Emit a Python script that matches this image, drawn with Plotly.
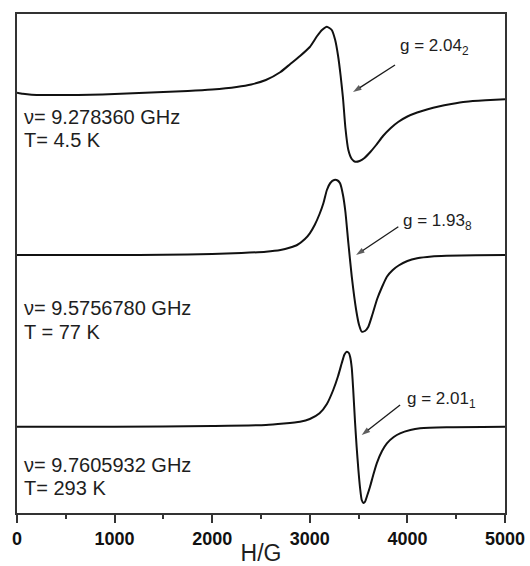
import plotly.graph_objects as go

# Field (G) and intensity (a.u., spectra stacked with offsets)
h_top = [0, 60, 150, 300, 500, 750, 1000, 1250, 1500, 1750, 2000, 2250, 2400, 2550, 2700, 2800,
         2900, 3000, 3075, 3125, 3175, 3225, 3260, 3290, 3315, 3340, 3365, 3395, 3430, 3465,
         3510, 3560, 3620, 3680, 3750, 3830, 3905, 4000, 4100, 4200, 4320, 4450, 4600, 4800, 5000]
i_top = [420.3, 419.2, 418.3, 418, 418, 418.2, 419, 420, 421, 422, 423.5, 426, 428.5, 433, 441, 449,
         457, 466, 477, 483, 486.3, 483, 473, 457, 438, 415, 385, 363, 354, 351.3,
         352, 355, 361, 368, 377, 385, 391, 396.5, 400.5, 403.5, 406.5, 409, 411.3, 412.7, 413.7]

h_mid = [0, 500, 1000, 1500, 2000, 2300, 2550, 2700, 2800, 2870, 2950, 3000, 3050, 3100, 3140,
         3175, 3210, 3250, 3285, 3310, 3340, 3365, 3395, 3430, 3475, 3505, 3532, 3565, 3600,
         3640, 3690, 3740, 3790, 3850, 3910, 4000, 4100, 4250, 4400, 4700, 5000]
i_mid = [258, 258, 258, 258.2, 259, 260, 261.3, 263, 265.5, 268, 274, 279.7, 288, 299, 310,
         323, 330, 333, 332.5, 329.7, 318, 301, 270, 236.3, 203, 188, 181.3, 182, 186.3,
         198, 214, 226, 236.3, 243, 247.5, 252, 254.7, 256.5, 257.2, 257.8, 258]

h_bot = [0, 1000, 2000, 2550, 2900, 3000, 3100, 3175, 3240, 3290, 3327, 3355, 3379, 3400, 3413,
         3430, 3445, 3464, 3480, 3498, 3515, 3532, 3550, 3566, 3590, 3617, 3650, 3686, 3740,
         3790, 3860, 3925, 4030, 4130, 4400, 5000]
i_bot = [86.3, 86.3, 87, 88, 91.3, 94, 99.7, 109, 123, 137, 149.7, 158.5, 161.3, 160, 156.3,
         145, 123, 90, 66, 43, 25, 13, 10, 11.3, 18, 26.3, 38, 49.7, 62,
         69.7, 76, 79.7, 83, 84.7, 85.8, 86.3]

freq_labels = ["ν= 9.278360 GHz", "ν= 9.5756780 GHz", "ν= 9.7605932 GHz"]
temp_labels = ["T= 4.5 K", "T = 77 K", "T= 293 K"]
g_labels = ["g = 2.04<sub>2</sub>", "g = 1.93<sub>8</sub>", "g = 2.01<sub>1</sub>"]
x_ticks = [0, 1000, 2000, 3000, 4000, 5000]

# arrows: tail -> head (field G, intensity a.u.)
arrow_tail_h = [3873, 3907, 3925]
arrow_tail_i = [448, 286.3, 108]
arrow_head_h = [3443, 3474, 3532]
arrow_head_i = [421, 258, 78]

TXT = "#1e1e1e"
FONT = "Liberation Sans, Arial, sans-serif"

fig = go.Figure()
for hx, iy in [(h_top, i_top), (h_mid, i_mid), (h_bot, i_bot)]:
    fig.add_trace(go.Scatter(x=hx, y=iy, mode="lines",
                             line=dict(color="#111111", width=2, shape="spline", smoothing=0.5),
                             showlegend=False, hoverinfo="skip"))

for th, ti, hh, hi in zip(arrow_tail_h, arrow_tail_i, arrow_head_h, arrow_head_i):
    fig.add_trace(go.Scatter(x=[th, hh], y=[ti, hi], mode="lines+markers",
                             line=dict(color="#1a1a1a", width=1.3),
                             marker=dict(symbol=["circle", "arrow"], size=[0, 9],
                                         angleref="previous", color="#1a1a1a",
                                         line=dict(width=0)),
                             showlegend=False, hoverinfo="skip"))

freq_y = [396, 205, 48]
temp_y = [373, 181, 25]
for f, t, fy, ty in zip(freq_labels, temp_labels, freq_y, temp_y):
    fig.add_annotation(x=55, y=fy, xref="x", yref="y", text=f, showarrow=False,
                       xanchor="left", yanchor="middle", font=dict(size=20, color=TXT, family=FONT))
    fig.add_annotation(x=55, y=ty, xref="x", yref="y", text=t, showarrow=False,
                       xanchor="left", yanchor="middle", font=dict(size=20, color=TXT, family=FONT))

g_pos = [(3900, 466), (3930, 291), (3980, 113)]
for lab, (gx, gy) in zip(g_labels, g_pos):
    fig.add_annotation(x=gx, y=gy, xref="x", yref="y", text=lab, showarrow=False,
                       xanchor="left", yanchor="middle", font=dict(size=17, color=TXT, family=FONT))

fig.update_layout(
    width=530, height=566,
    margin=dict(l=17, r=25, t=14, b=53),
    paper_bgcolor="white", plot_bgcolor="white",
    font=dict(family=FONT, color=TXT),
)
fig.update_xaxes(range=[0, 5000], tickvals=x_ticks, ticktext=["<b>%d</b>" % v for v in x_ticks],
                 automargin=False,
                 showline=True, mirror=True, linecolor="#333333", linewidth=2,
                 ticks="outside", ticklen=8, tickwidth=2, tickcolor="#333333",
                 minor=dict(ticks="outside", ticklen=4, tickwidth=2, dtick=500, tickcolor="#333333"),
                 tickfont=dict(size=18, color="#111111", family=FONT),
                 showgrid=False, zeroline=False,
                 title=dict(text="H/G", font=dict(size=23, color=TXT, family=FONT), standoff=4))
fig.update_yaxes(range=[0, 499], automargin=False,
                 showline=True, mirror=True, linecolor="#333333", linewidth=2,
                 showticklabels=False, ticks="", showgrid=False, zeroline=False)

fig.write_html("out.html", post_script="document.body.style.margin='0px';",
               config={"displayModeBar": False})
